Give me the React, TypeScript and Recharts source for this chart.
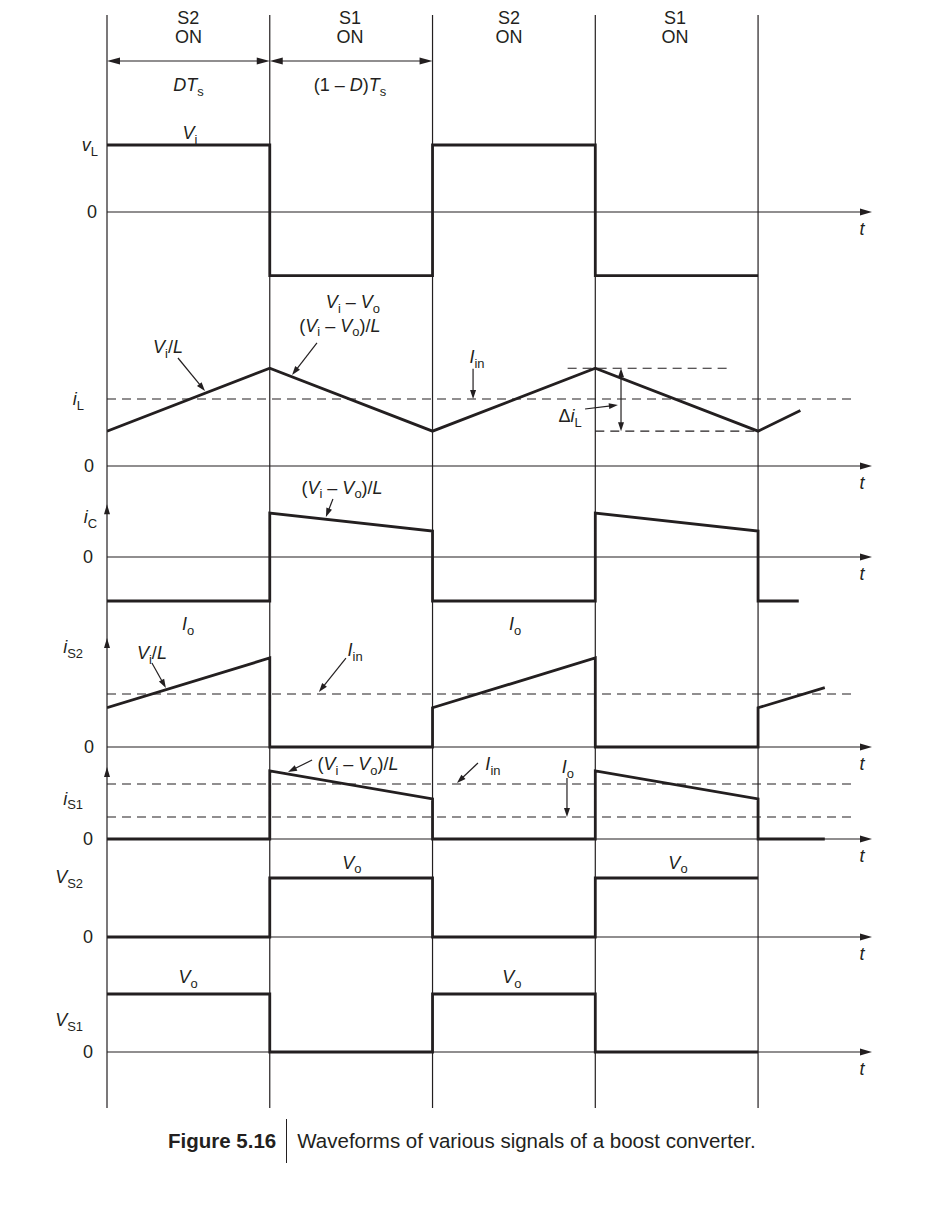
import React from 'react';
import { ComposedChart, Line, XAxis, YAxis, ReferenceLine, ReferenceDot } from 'recharts';

type Pt = { t: number; v: number };
type Kind = 'n' | 'i' | 's';
type Part = [string, Kind];

// time in half-periods: 0..4 (S2 on, S1 on, S2 on, S1 on)
const switchTimes = [0, 1, 2, 3, 4];

// ---- waveform values (per-panel units) ----
const vLWave: Pt[] = [
  { t: 0, v: 1 }, { t: 1, v: 1 }, { t: 1, v: -0.95 }, { t: 2, v: -0.95 },
  { t: 2, v: 1 }, { t: 3, v: 1 }, { t: 3, v: -0.95 }, { t: 4, v: -0.95 },
];
const iLWave: Pt[] = [
  { t: 0, v: 0.52 }, { t: 1, v: 1.46 }, { t: 2, v: 0.52 }, { t: 3, v: 1.46 },
  { t: 4, v: 0.52 }, { t: 4.26, v: 0.83 },
];
const iCWave: Pt[] = [
  { t: 0, v: -1 }, { t: 1, v: -1 }, { t: 1, v: 1.0 }, { t: 2, v: 0.59 }, { t: 2, v: -1 },
  { t: 3, v: -1 }, { t: 3, v: 1.0 }, { t: 4, v: 0.59 }, { t: 4, v: -1 }, { t: 4.25, v: -1 },
];
const iS2Wave: Pt[] = [
  { t: 0, v: 0.74 }, { t: 1, v: 1.68 }, { t: 1, v: 0 }, { t: 2, v: 0 }, { t: 2, v: 0.74 },
  { t: 3, v: 1.68 }, { t: 3, v: 0 }, { t: 4, v: 0 }, { t: 4, v: 0.74 }, { t: 4.41, v: 1.12 },
];
const iS1Wave: Pt[] = [
  { t: 0, v: 0 }, { t: 1, v: 0 }, { t: 1, v: 1.24 }, { t: 2, v: 0.73 }, { t: 2, v: 0 },
  { t: 3, v: 0 }, { t: 3, v: 1.24 }, { t: 4, v: 0.73 }, { t: 4, v: 0 }, { t: 4.41, v: 0 },
];
const vS2Wave: Pt[] = [
  { t: 0, v: 0 }, { t: 1, v: 0 }, { t: 1, v: 1 }, { t: 2, v: 1 },
  { t: 2, v: 0 }, { t: 3, v: 0 }, { t: 3, v: 1 }, { t: 4, v: 1 },
];
const vS1Wave: Pt[] = [
  { t: 0, v: 1 }, { t: 1, v: 1 }, { t: 1, v: 0 }, { t: 2, v: 0 },
  { t: 2, v: 1 }, { t: 3, v: 1 }, { t: 3, v: 0 }, { t: 4, v: 0 },
];

// dashed reference levels
const iLIin: Pt[] = [{ t: 0, v: 1 }, { t: 4.58, v: 1 }];
const iLPeak: Pt[] = [{ t: 2.83, v: 1.46 }, { t: 3.84, v: 1.46 }];
const iLValley: Pt[] = [{ t: 3.0, v: 0.52 }, { t: 4.0, v: 0.52 }];
const iS2Iin: Pt[] = [{ t: 0, v: 1 }, { t: 4.58, v: 1 }];
const iS1Iin: Pt[] = [{ t: 0, v: 1 }, { t: 4.58, v: 1 }];
const iS1Io: Pt[] = [{ t: 0, v: 0.4 }, { t: 4.58, v: 0.4 }];

// ---- layout of panels (zero line pixel, px per unit) ----
const W = 933;
const H = 1209;
const PLOT_TOP = 15;
const PLOT_BOTTOM = 1108;
const T_MAX = 4.7;
const panels = [
  { id: 'vL', zero: 212, scale: 67 },
  { id: 'iL', zero: 466, scale: 67 },
  { id: 'iC', zero: 557, scale: 44 },
  { id: 'iS2', zero: 747, scale: 53 },
  { id: 'iS1', zero: 839, scale: 55 },
  { id: 'vS2', zero: 937, scale: 59 },
  { id: 'vS1', zero: 1052, scale: 58 },
];
const domainOf = (z: number, s: number): [number, number] => [-(PLOT_BOTTOM - z) / s, (z - PLOT_TOP) / s];

const waves: { axis: string; data: Pt[] }[] = [
  { axis: 'vL', data: vLWave },
  { axis: 'iL', data: iLWave },
  { axis: 'iC', data: iCWave },
  { axis: 'iS2', data: iS2Wave },
  { axis: 'iS1', data: iS1Wave },
  { axis: 'vS2', data: vS2Wave },
  { axis: 'vS1', data: vS1Wave },
];
const dashed: { axis: string; data: Pt[] }[] = [
  { axis: 'iL', data: iLIin },
  { axis: 'iL', data: iLPeak },
  { axis: 'iL', data: iLValley },
  { axis: 'iS2', data: iS2Iin },
  { axis: 'iS1', data: iS1Iin },
  { axis: 'iS1', data: iS1Io },
];

// annotation arrows: [from, to], heads
type Arrow = { axis: string; a: [number, number]; b: [number, number]; both?: boolean; len?: number; half?: number };
const arrows: Arrow[] = [
  { axis: 'vL', a: [0, 2.254], b: [1, 2.254], both: true, len: 13, half: 3.5 },
  { axis: 'vL', a: [1, 2.254], b: [2, 2.254], both: true, len: 13, half: 3.5 },
  { axis: 'iL', a: [0.436, 1.612], b: [0.602, 1.119] },
  { axis: 'iL', a: [1.29, 1.836], b: [1.137, 1.358] },
  { axis: 'iL', a: [2.249, 1.45], b: [2.249, 1.0] },
  { axis: 'iL', a: [2.937, 0.851], b: [3.139, 0.91] },
  { axis: 'iL', a: [3.158, 1.46], b: [3.158, 0.52], both: true },
  { axis: 'iC', a: [1.388, 1.318], b: [1.345, 0.909] },
  { axis: 'iS2', a: [0.276, 1.585], b: [0.362, 1.113] },
  { axis: 'iS2', a: [1.468, 1.679], b: [1.302, 1.038] },
  { axis: 'iS1', a: [1.26, 1.436], b: [1.112, 1.218] },
  { axis: 'iS1', a: [2.279, 1.382], b: [2.15, 1.018] },
  { axis: 'iS1', a: [2.826, 1.109], b: [2.826, 0.4] },
  // small up-arrows on the vertical axis
  { axis: 'iC', a: [0, 0.977], b: [0, 1.2], len: 10, half: 3 },
  { axis: 'iS2', a: [0, 1.868], b: [0, 2.057], len: 10, half: 3 },
  { axis: 'iS1', a: [0, 1.127], b: [0, 1.309], len: 10, half: 3 },
];

// ---- text labels ----
const SP = '\u00a0';
const MINUS = SP + '–' + SP;
const Vi: Part[] = [['V', 'i'], ['i', 's']];
const Vo: Part[] = [['V', 'i'], ['o', 's']];
const ViMinusVoOverL: Part[] = [['(', 'n'], ...Vi, [MINUS, 'n'], ...Vo, [')/', 'n'], ['L', 'i']];
const ViOverL: Part[] = [...Vi, ['/', 'n'], ['L', 'i']];
const Iin: Part[] = [['I', 'i'], ['in', 's']];
const Io: Part[] = [['I', 'i'], ['o', 's']];
const zero: Part[] = [['0', 'n']];

type Lbl = { axis: string; t: number; v: number; parts: Part[]; dx?: number; dy?: number; anchor?: 'start' | 'middle' | 'end' };
const labels: Lbl[] = [
  // header
  { axis: 'vL', t: 0.5, v: 2.91, parts: [['S2', 'n']] },
  { axis: 'vL', t: 0.5, v: 2.612, parts: [['ON', 'n']] },
  { axis: 'vL', t: 1.493, v: 2.91, parts: [['S1', 'n']] },
  { axis: 'vL', t: 1.493, v: 2.612, parts: [['ON', 'n']] },
  { axis: 'vL', t: 2.47, v: 2.91, parts: [['S2', 'n']] },
  { axis: 'vL', t: 2.47, v: 2.612, parts: [['ON', 'n']] },
  { axis: 'vL', t: 3.49, v: 2.91, parts: [['S1', 'n']] },
  { axis: 'vL', t: 3.49, v: 2.612, parts: [['ON', 'n']] },
  { axis: 'vL', t: 0.5, v: 1.896, parts: [['DT', 'i'], ['s', 's']] },
  { axis: 'vL', t: 1.493, v: 1.896, parts: [['(1' + MINUS, 'n'], ['D', 'i'], [')', 'n'], ['T', 'i'], ['s', 's']] },
  // vL panel
  { axis: 'vL', t: 0, v: 1, parts: [['v', 'i'], ['L', 's']], dx: -9, anchor: 'end' },
  { axis: 'vL', t: 0, v: 0, parts: zero, dx: -10, anchor: 'end' },
  { axis: 'vL', t: 0.51, v: 1.18, parts: Vi },
  { axis: 'vL', t: 1.511, v: -1.343, parts: [...Vi, [MINUS, 'n'], ...Vo] },
  // iL panel
  { axis: 'iL', t: 0, v: 1, parts: [['i', 'i'], ['L', 's']], dx: -23, anchor: 'end' },
  { axis: 'iL', t: 0, v: 0, parts: zero, dx: -13, anchor: 'end' },
  { axis: 'iL', t: 0.375, v: 1.776, parts: ViOverL },
  { axis: 'iL', t: 1.431, v: 2.104, parts: ViMinusVoOverL },
  { axis: 'iL', t: 2.273, v: 1.627, parts: Iin },
  { axis: 'iL', t: 2.845, v: 0.746, parts: [['Δ', 'n'], ['i', 'i'], ['L', 's']] },
  // iC panel
  { axis: 'iC', t: 0, v: 0.909, parts: [['i', 'i'], ['C', 's']], dx: -10, anchor: 'end' },
  { axis: 'iC', t: 0, v: 0, parts: zero, dx: -14, anchor: 'end' },
  { axis: 'iC', t: 1.444, v: 1.59, parts: ViMinusVoOverL },
  { axis: 'iC', t: 0.498, v: -1.52, parts: Io },
  { axis: 'iC', t: 2.507, v: -1.52, parts: Io },
  // iS2 panel
  { axis: 'iS2', t: 0, v: 1.887, parts: [['i', 'i'], ['S2', 's']], dx: -24, anchor: 'end' },
  { axis: 'iS2', t: 0, v: 0, parts: zero, dx: -13, anchor: 'end' },
  { axis: 'iS2', t: 0.276, v: 1.774, parts: ViOverL },
  { axis: 'iS2', t: 1.524, v: 1.83, parts: Iin },
  // iS1 panel
  { axis: 'iS1', t: 0, v: 0.745, parts: [['i', 'i'], ['S1', 's']], dx: -24, anchor: 'end' },
  { axis: 'iS1', t: 0, v: 0, parts: zero, dx: -14, anchor: 'end' },
  { axis: 'iS1', t: 1.542, v: 1.364, parts: ViMinusVoOverL },
  { axis: 'iS1', t: 2.371, v: 1.364, parts: Iin },
  { axis: 'iS1', t: 2.832, v: 1.309, parts: Io },
  // VS2 panel
  { axis: 'vS2', t: 0, v: 1.017, parts: [['V', 'i'], ['S2', 's']], dx: -24, anchor: 'end' },
  { axis: 'vS2', t: 0, v: 0, parts: zero, dx: -14, anchor: 'end' },
  { axis: 'vS2', t: 1.505, v: 1.27, parts: Vo },
  { axis: 'vS2', t: 3.508, v: 1.27, parts: Vo },
  // VS1 panel
  { axis: 'vS1', t: 0, v: 0.552, parts: [['V', 'i'], ['S1', 's']], dx: -24, anchor: 'end' },
  { axis: 'vS1', t: 0, v: 0, parts: zero, dx: -14, anchor: 'end' },
  { axis: 'vS1', t: 0.498, v: 1.293, parts: Vo },
  { axis: 'vS1', t: 2.488, v: 1.293, parts: Vo },
];

const INK = '#231f20';
const FONT = '"Liberation Sans", Arial, Helvetica, sans-serif';
const FS = 18;

function Tx({ x, y, parts, size = FS, anchor = 'middle' }: { x: number; y: number; parts: Part[]; size?: number; anchor?: 'start' | 'middle' | 'end' }) {
  let sub = false;
  const shift = size * 0.26;
  const spans = parts.map(([s, k], idx) => {
    let dy = 0;
    if (k === 's' && !sub) { dy = shift; sub = true; }
    else if (k !== 's' && sub) { dy = -shift; sub = false; }
    return (
      <tspan key={idx} dy={dy || undefined} fontStyle={k === 'i' ? 'italic' : 'normal'} fontSize={k === 's' ? size * 0.72 : size}>
        {s}
      </tspan>
    );
  });
  return (
    <text x={x} y={y + size * 0.36} textAnchor={anchor} fontFamily={FONT} fontSize={size} fill={INK}>
      {spans}
    </text>
  );
}

const arrowShape = (len = 9, half = 3, both = false, sw = 1.2) => (p: any) => {
  const { x1, y1, x2, y2 } = p;
  const dx = x2 - x1;
  const dy = y2 - y1;
  const L = Math.hypot(dx, dy) || 1;
  const ux = dx / L;
  const uy = dy / L;
  const head = (tx: number, ty: number, ex: number, ey: number) => {
    const bx = tx - ex * len;
    const by = ty - ey * len;
    const px = -ey * half;
    const py = ex * half;
    return <polygon points={`${tx},${ty} ${bx + px},${by + py} ${bx - px},${by - py}`} fill={INK} />;
  };
  return (
    <g>
      <line x1={x1 + (both ? ux * len * 0.8 : 0)} y1={y1 + (both ? uy * len * 0.8 : 0)} x2={x2 - ux * len * 0.8} y2={y2 - uy * len * 0.8} stroke={INK} strokeWidth={sw} />
      {head(x2, y2, ux, uy)}
      {both ? head(x1, y1, -ux, -uy) : null}
    </g>
  );
};

export default function App() {
  return (
    <div style={{ position: 'absolute', left: 0, top: 0, width: W, height: H, background: '#fff' }}>
      <ComposedChart width={W} height={H} margin={{ top: PLOT_TOP, right: W - 872, bottom: H - PLOT_BOTTOM, left: 107 }}>
        <XAxis type="number" dataKey="t" domain={[0, T_MAX]} hide allowDataOverflow />
        {panels.map((p) => (
          <YAxis key={p.id} yAxisId={p.id} type="number" domain={domainOf(p.zero, p.scale)} hide allowDataOverflow />
        ))}
        {switchTimes.map((t) => (
          <ReferenceLine key={'sw' + t} x={t} yAxisId="vL" stroke={INK} strokeWidth={1.2} ifOverflow="visible" />
        ))}
        {panels.map((p) => (
          <ReferenceLine
            key={'ax' + p.id}
            yAxisId={p.id}
            segment={[{ x: 0, y: 0 }, { x: T_MAX, y: 0 }]}
            ifOverflow="visible"
            shape={arrowShape(12, 3.5, false, 1.2)}
          />
        ))}
        {panels.map((p) => (
          <ReferenceDot
            key={'t' + p.id}
            yAxisId={p.id}
            x={4.638}
            y={0}
            r={0}
            ifOverflow="visible"
            shape={(d: any) => <Tx x={d.cx} y={d.cy + 17} parts={[['t', 'i']]} />}
          />
        ))}
        {dashed.map((d, i) => (
          <Line
            key={'d' + i}
            data={d.data}
            dataKey="v"
            yAxisId={d.axis}
            type="linear"
            stroke={INK}
            strokeWidth={1.1}
            strokeDasharray="9 6"
            dot={false}
            activeDot={false}
            isAnimationActive={false}
          />
        ))}
        {waves.map((w) => (
          <Line
            key={'w' + w.axis}
            data={w.data}
            dataKey="v"
            yAxisId={w.axis}
            type="linear"
            stroke={INK}
            strokeWidth={2.8}
            dot={false}
            activeDot={false}
            isAnimationActive={false}
          />
        ))}
        {arrows.map((a, i) => (
          <ReferenceLine
            key={'ar' + i}
            yAxisId={a.axis}
            segment={[{ x: a.a[0], y: a.a[1] }, { x: a.b[0], y: a.b[1] }]}
            ifOverflow="visible"
            shape={arrowShape(a.len ?? 9, a.half ?? 3, !!a.both, 1.2)}
          />
        ))}
        {labels.map((l, i) => (
          <ReferenceDot
            key={'l' + i}
            yAxisId={l.axis}
            x={l.t}
            y={l.v}
            r={0}
            ifOverflow="visible"
            shape={(d: any) => <Tx x={d.cx + (l.dx ?? 0)} y={d.cy + (l.dy ?? 0)} parts={l.parts} anchor={l.anchor ?? 'middle'} />}
          />
        ))}
      </ComposedChart>
      <div
        style={{
          position: 'absolute',
          left: 168,
          top: 1119,
          height: 44,
          display: 'flex',
          alignItems: 'center',
          fontFamily: FONT,
          fontSize: 20.5,
          color: INK,
          whiteSpace: 'nowrap',
        }}
      >
        <span style={{ fontWeight: 'bold' }}>Figure 5.16</span>
        <span style={{ display: 'inline-block', width: 1, height: 44, background: INK, margin: '0 10px 0 10px' }} />
        <span>Waveforms of various signals of a boost converter.</span>
      </div>
    </div>
  );
}
